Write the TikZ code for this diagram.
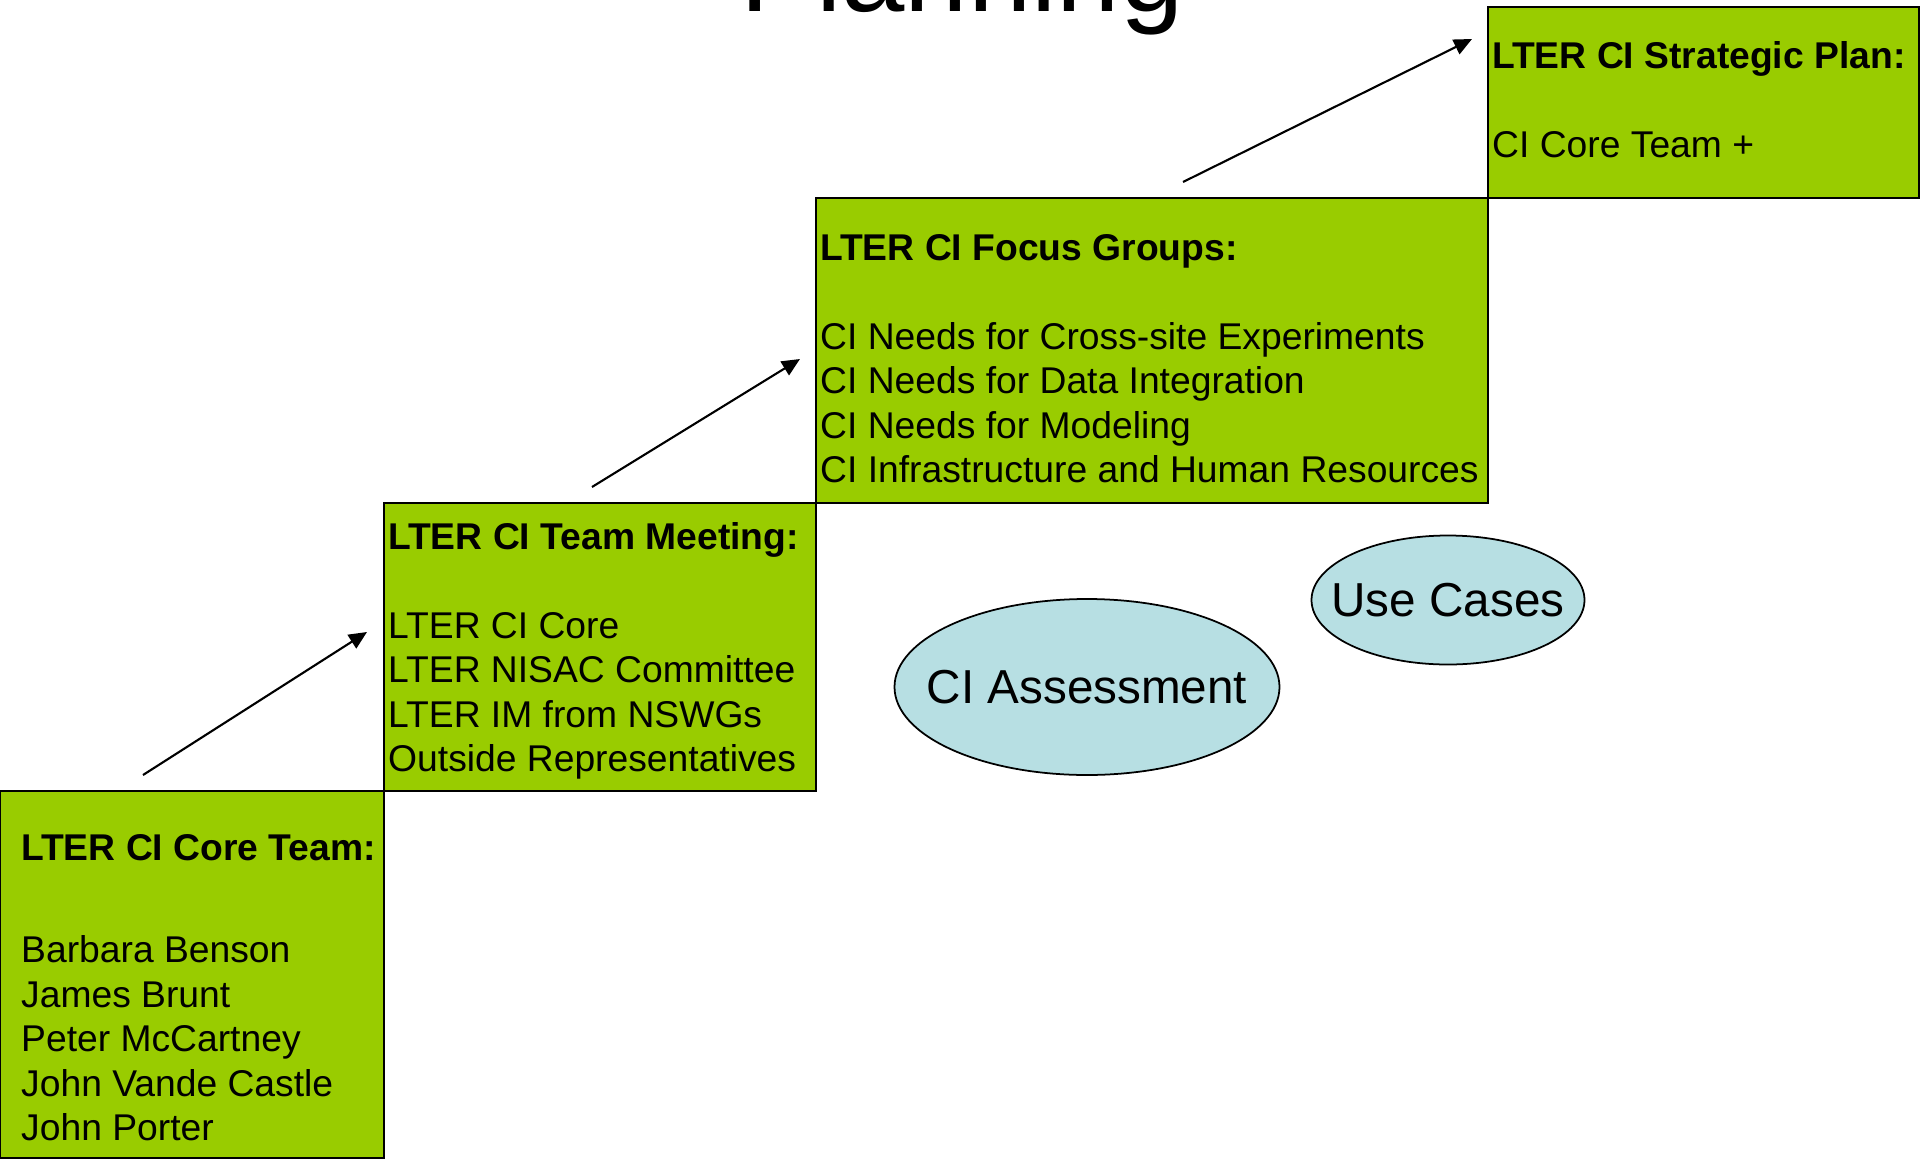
\documentclass[tikz,border=0pt]{standalone}
\usepackage{fontspec}
\setmainfont{Liberation Sans}
\usetikzlibrary{positioning,shapes.geometric,arrows.meta}
\definecolor{stepgreen}{HTML}{99CC00}
\definecolor{ovalblue}{HTML}{B7DFE3}

\begin{document}
\begin{tikzpicture}[x=0.1mm, y=-0.1mm,
    stepbox/.style={draw, rectangle, line width=0.7pt, fill=stepgreen, inner sep=0, outer sep=0, anchor=north west},
    steptext/.style={anchor=base west, inner sep=0, align=left, font=\fontsize{10.6}{12.66}\selectfont},
    oval/.style={draw, ellipse, line width=0.5pt, fill=ovalblue, inner sep=0, font=\fontsize{13.56}{16}\selectfont},
    pointer/.style={-{Triangle[length=1.8mm, width=1.6mm]}, line width=0.6pt}]
    \clip (0,0) rectangle (1920,1159);
    \useasboundingbox (0,0) rectangle (1920,1159);

    \node[anchor=base, inner sep=0, font=\fontsize{32.4}{38}\selectfont] (0) at (962,11) {Planning};

    \node[stepbox, minimum width=38.4mm, minimum height=36.7mm] (1) at (0,791) {};
    \node[stepbox, anchor=south west, minimum width=43.2mm, minimum height=28.8mm] (2) at (1.north east) {};
    \node[stepbox, anchor=south west, minimum width=67.2mm, minimum height=30.5mm] (3) at (2.north east) {};
    \node[stepbox, anchor=south west, minimum width=43.1mm, minimum height=19.1mm] (4) at (3.north east) {};

    % base = baseline of the last line
    \node[steptext, xshift=2.05mm, yshift=-34.95mm] (5) at (1.north west)
    {\textbf{LTER CI Core Team:}\\[5.75mm]
        Barbara Benson\\ James Brunt\\ Peter McCartney\\ John Vande Castle\\ John Porter};
    \node[steptext, xshift=0.35mm, yshift=-26.85mm] (6) at (2.north west)
    {\textbf{LTER CI Team Meeting:}\\[4.45mm]
        LTER CI Core\\ LTER NISAC Committee\\ LTER IM from NSWGs\\ Outside Representatives};
    \node[steptext, xshift=0.35mm, yshift=-28.45mm] (7) at (3.north west)
    {\textbf{LTER CI Focus Groups:}\\[4.45mm]
        CI Needs for Cross-site Experiments\\ CI Needs for Data Integration\\
        CI Needs for Modeling\\ CI Infrastructure and Human Resources};
    \node[steptext, xshift=0.35mm, yshift=-15.05mm] (8) at (4.north west)
    {\textbf{LTER CI Strategic Plan:}\\[4.45mm] CI Core Team +};

    \node[oval, minimum width=38.5mm, minimum height=17.6mm] (9) at (1087,687) {\makebox[0pt]{CI Assessment}};
    \node[oval, minimum width=27.3mm, minimum height=12.9mm] (10) at (1448,600) {\makebox[0pt]{Use Cases}};

    % arrows between the steps
    \coordinate (a1) at (143,775);
    \coordinate (b1) at (367,632);
    \coordinate (a2) at (592,487);
    \coordinate (b2) at (800,359);
    \coordinate (a3) at (1183,182);
    \coordinate (b3) at (1472,39);

    \draw[pointer] (a1) -- (b1);
    \draw[pointer] (a2) -- (b2);
    \draw[pointer] (a3) -- (b3);
\end{tikzpicture}
\end{document}
